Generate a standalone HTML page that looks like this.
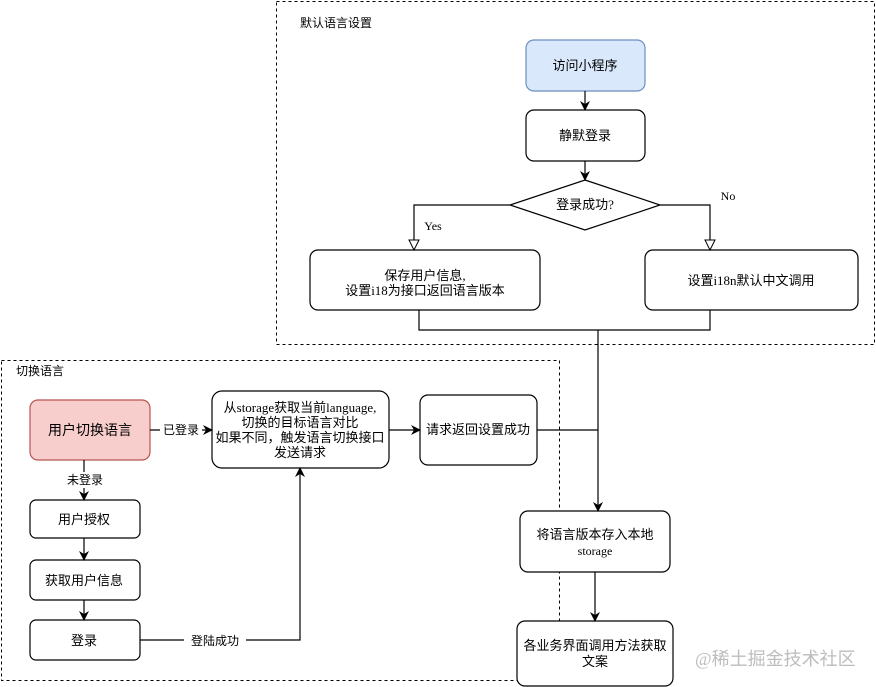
<!DOCTYPE html>
<html><head><meta charset="utf-8"><style>
html,body{margin:0;padding:0;background:#fff;}
svg{display:block;}
text{font-family:"Liberation Serif","Noto Sans CJK SC",sans-serif;fill:#000;}
</style></head><body>
<svg width="876" height="687" viewBox="0 0 876 687" xmlns="http://www.w3.org/2000/svg">
<defs>
<marker id="a" markerWidth="10" markerHeight="10" refX="9" refY="5" orient="auto" markerUnits="userSpaceOnUse"><path d="M0,0 L10,5 L0,10 L3,5 Z" fill="#000"/></marker>
<marker id="h" markerWidth="12" markerHeight="12" refX="11" refY="6" orient="auto" markerUnits="userSpaceOnUse"><path d="M1,1 L11,6 L1,11 Z" fill="#fff" stroke="#000"/></marker>
</defs>
<g fill="none" stroke="#000" stroke-width="1" stroke-dasharray="3,3">
<rect x="276.5" y="1.5" width="598" height="343"/>
<rect x="1.5" y="360.5" width="558" height="320"/>
</g>
<text x="300" y="27" font-size="12">默认语言设置</text>
<text x="16" y="375" font-size="12">切换语言</text>
<g stroke="#000" fill="#fff" stroke-width="1.2">
<rect x="526" y="40" width="119" height="51" rx="8" fill="#dae8fc" stroke="#6c8ebf"/>
<rect x="526" y="110" width="119" height="51" rx="8"/>
<path d="M585,180 L660,205 L585,230 L510,205 Z"/>
<rect x="310" y="250" width="230" height="60" rx="8"/>
<rect x="645" y="250" width="213" height="60" rx="8"/>
<rect x="30" y="400" width="120" height="60" rx="8" fill="#f8cecc" stroke="#b85450"/>
<rect x="212" y="391" width="177" height="77" rx="10"/>
<rect x="420" y="395" width="117" height="70" rx="8"/>
<rect x="30" y="500" width="110" height="38" rx="6"/>
<rect x="30" y="560" width="110" height="40" rx="6"/>
<rect x="30" y="620" width="110" height="40" rx="6"/>
<rect x="520" y="511" width="150" height="61" rx="8"/>
<rect x="517" y="621" width="156" height="65" rx="8"/>
</g>
<g stroke="#000" fill="none" stroke-width="1.2">
<path d="M585,91 V110" marker-end="url(#a)"/>
<path d="M585,161 V180" marker-end="url(#a)"/>
<path d="M510,205 H414 V250" marker-end="url(#h)"/>
<path d="M660,205 H710 V250" marker-end="url(#h)"/>
<path d="M419,310 V330 H710 V310"/>
<path d="M598,330 V511" marker-end="url(#a)"/>
<path d="M537,430 H598"/>
<path d="M595,572 V621" marker-end="url(#a)"/>
<path d="M150,430 H212" marker-end="url(#a)"/>
<path d="M389,430 H420" marker-end="url(#a)"/>
<path d="M84,460 V500" marker-end="url(#a)"/>
<path d="M84,538 V560" marker-end="url(#a)"/>
<path d="M84,600 V620" marker-end="url(#a)"/>
<path d="M140,640 H300 V468" marker-end="url(#a)"/>
</g>
<g font-size="13" text-anchor="middle">
<text x="585" y="70">访问小程序</text>
<text x="585" y="140">静默登录</text>
<text x="585" y="209">登录成功?</text>
<text x="425" y="280">保存用户信息,</text>
<text x="425" y="295">设置i18为接口返回语言版本</text>
<text x="751" y="285">设置i18n默认中文调用</text>
<text x="90" y="435" font-size="14">用户切换语言</text>
<text x="300" y="412">从storage获取当前language,</text>
<text x="300" y="427">切换的目标语言对比</text>
<text x="300" y="442">如果不同，触发语言切换接口</text>
<text x="300" y="457">发送请求</text>
<text x="478" y="434">请求返回设置成功</text>
<text x="84" y="524">用户授权</text>
<text x="84" y="585">获取用户信息</text>
<text x="84" y="645">登录</text>
<text x="595" y="539">将语言版本存入本地</text>
<text x="595" y="555" font-size="12">storage</text>
<text x="595" y="650">各业务界面调用方法获取</text>
<text x="595" y="666">文案</text>
</g>
<g font-size="12" text-anchor="middle">
<rect x="160" y="422" width="42" height="16" fill="#fff"/>
<text x="181" y="434">已登录</text>
<rect x="66" y="472" width="38" height="16" fill="#fff"/>
<text x="85" y="484">未登录</text>
<rect x="184" y="632" width="62" height="16" fill="#fff"/>
<text x="215" y="645">登陆成功</text>
<text x="433" y="230">Yes</text>
<text x="728" y="200">No</text>
</g>
<text x="695" y="665" font-size="18" style="fill:#bdbdbd">@稀土掘金技术社区</text>
</svg>
</body></html>
